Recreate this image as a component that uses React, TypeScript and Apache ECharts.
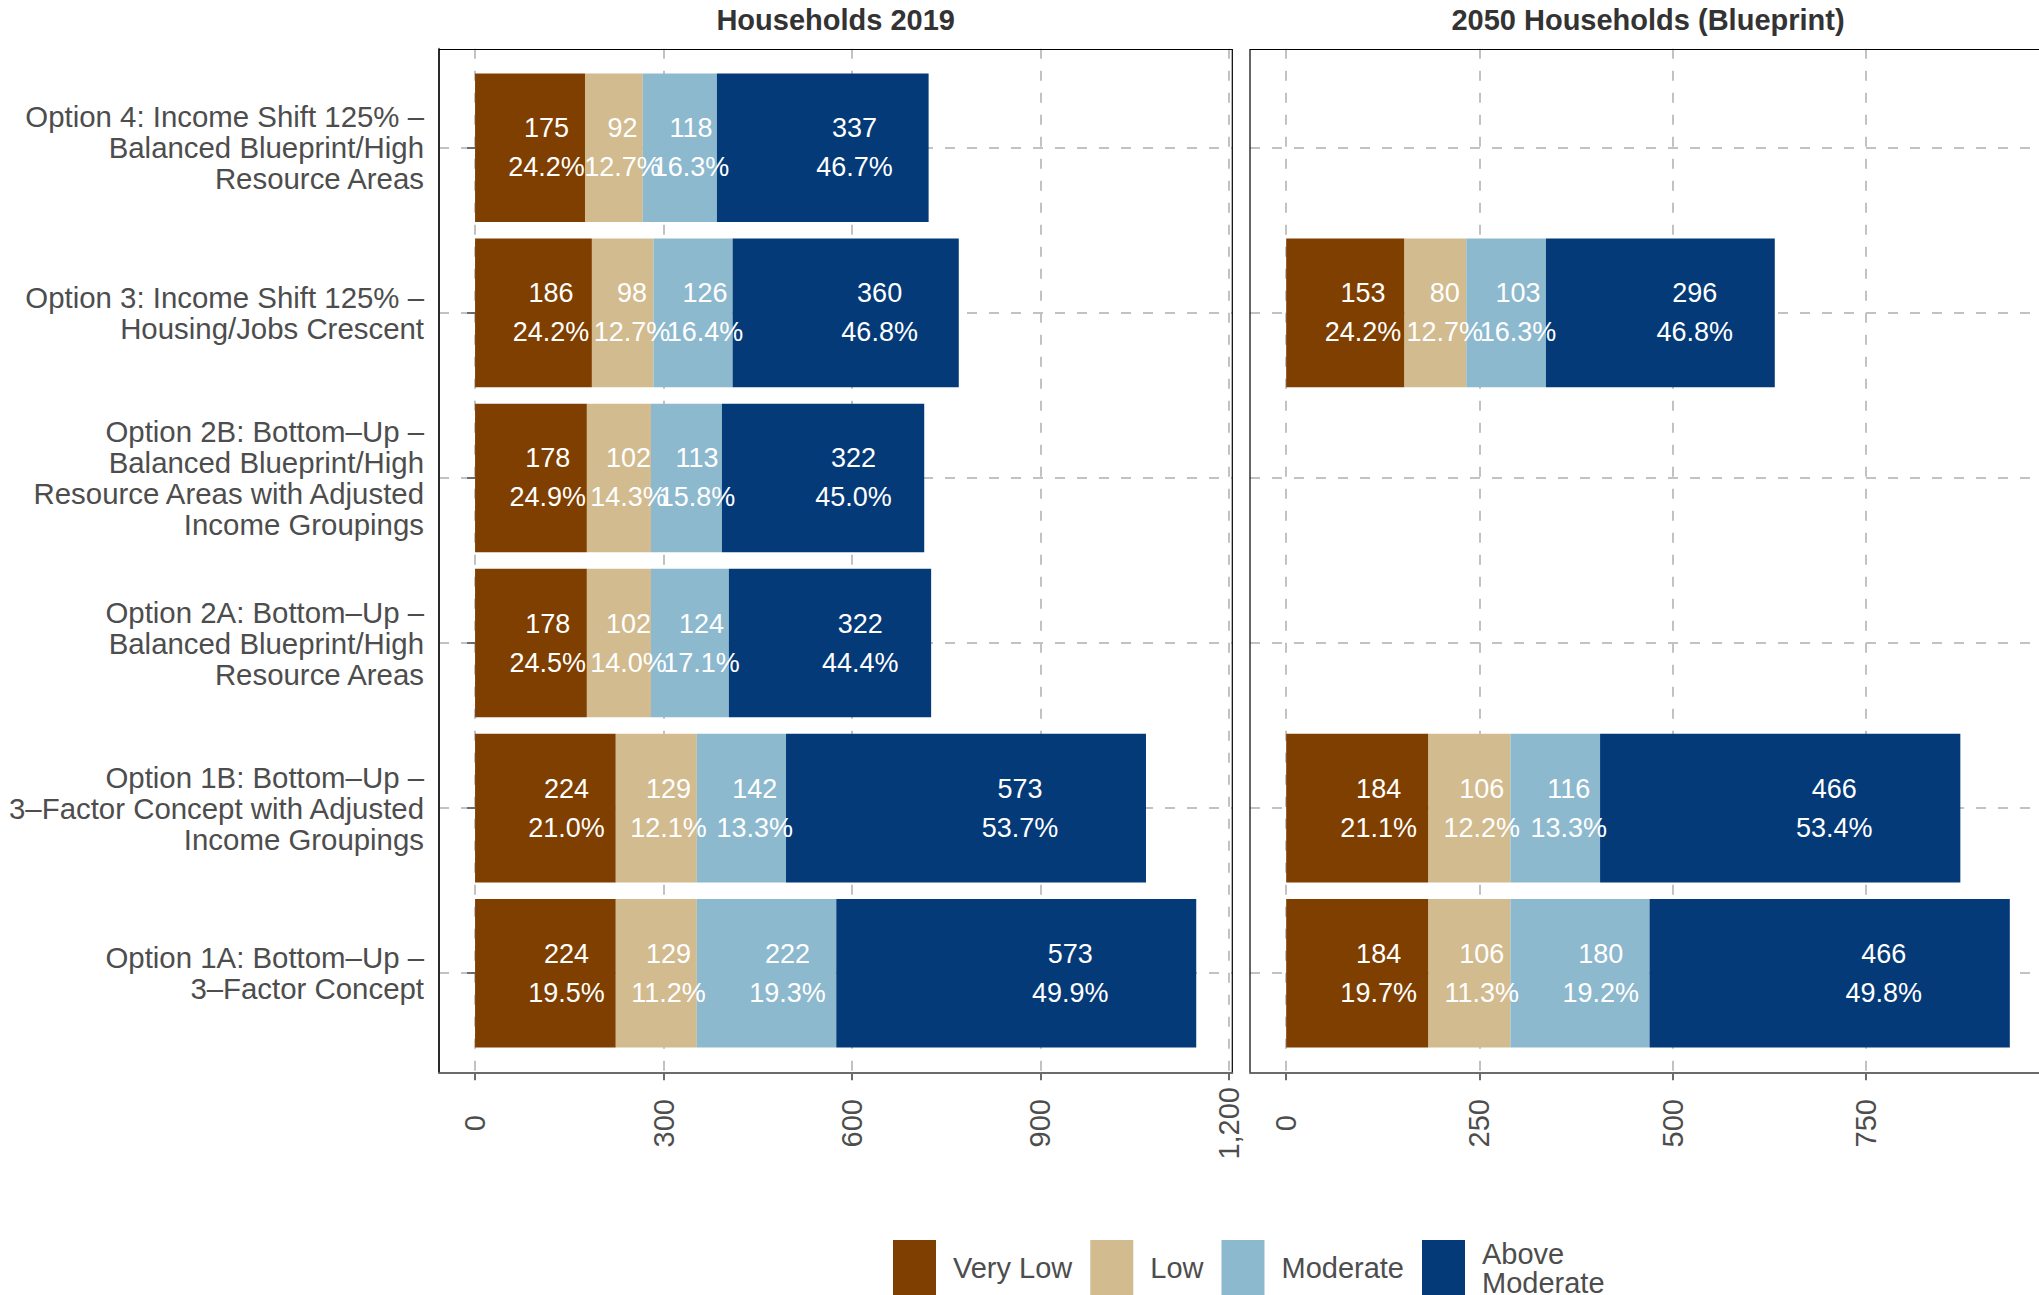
import React, { useEffect, useRef } from 'react';
import * as echarts from 'echarts';

// ---------- data ----------
const categories = [
  'Option 4: Income Shift 125% –\nBalanced Blueprint/High\nResource Areas',
  'Option 3: Income Shift 125% –\nHousing/Jobs Crescent',
  'Option 2B: Bottom–Up –\nBalanced Blueprint/High\nResource Areas with Adjusted\nIncome Groupings',
  'Option 2A: Bottom–Up –\nBalanced Blueprint/High\nResource Areas',
  'Option 1B: Bottom–Up –\n3–Factor Concept with Adjusted\nIncome Groupings',
  'Option 1A: Bottom–Up –\n3–Factor Concept',
];
const seriesNames = ['Very Low', 'Low', 'Moderate', 'Above Moderate'];
const colors = ['#7F3F00', '#D2BB8F', '#8DB9CE', '#043A78'];

const hh2019VeryLow = [175, 186, 178, 178, 224, 224];
const hh2019Low = [92, 98, 102, 102, 129, 129];
const hh2019Moderate = [118, 126, 113, 124, 142, 222];
const hh2019AboveModerate = [337, 360, 322, 322, 573, 573];

const hh2050VeryLow = [null, 153, null, null, 184, 184];
const hh2050Low = [null, 80, null, null, 106, 106];
const hh2050Moderate = [null, 103, null, null, 116, 180];
const hh2050AboveModerate = [null, 296, null, null, 466, 466];

const ticks2019 = [0, 300, 600, 900, 1200];
const ticks2050 = [0, 250, 500, 750];
const categoryPositions = [1, 2, 3, 4, 5, 6];
const panelTitles = ['Households 2019', '2050 Households (Blueprint)'];

// ---------- layout / style ----------
const FONT = '"Liberation Sans", Arial, Helvetica, sans-serif';
const AXIS_GRAY = '#6b6b6b';
const GRID_GRAY = '#c2c2c2';
const TEXT_GRAY = '#4d4d4d';

const PANEL_TOP = 48.7;
const PANEL_BOTTOM = 1072.3;
const PANEL_H = PANEL_BOTTOM - PANEL_TOP;
const INSET = (PANEL_H / 6.2) * 0.1;
const LEFT_X = 439;
const LEFT_W = 793.3;
const RIGHT_X = 1250;
const RIGHT_W = 796;

const sumRows = (arrs: (number | null)[][]) =>
  arrs[0].map((_, i) => arrs.reduce((s, a) => s + (a[i] ?? 0), 0));

const set2019 = [hh2019VeryLow, hh2019Low, hh2019Moderate, hh2019AboveModerate];
const set2050 = [hh2050VeryLow, hh2050Low, hh2050Moderate, hh2050AboveModerate];
const totals2019 = sumRows(set2019);
const totals2050 = sumRows(set2050);
const max2019 = Math.max(...totals2019);
const max2050 = Math.max(...totals2050);
const range2019 = [-max2019 * 0.05, max2019 * 1.05];
const range2050 = [-max2050 * 0.05, max2050 * 1.05];

const fmtNum = (v: number) => Number(v).toLocaleString('en-US');

function buildOption() {
  const grids = [
    { left: LEFT_X, width: LEFT_W, top: PANEL_TOP + INSET, height: PANEL_H - 2 * INSET },
    { left: RIGHT_X, width: RIGHT_W, top: PANEL_TOP + INSET, height: PANEL_H - 2 * INSET },
    { left: LEFT_X, width: LEFT_W, top: PANEL_TOP, height: PANEL_H },
    { left: RIGHT_X, width: RIGHT_W, top: PANEL_TOP, height: PANEL_H },
  ];

  const bgX = (gridIndex: number, range: number[], ticks: number[]) => ({
    type: 'value',
    gridIndex,
    min: range[0],
    max: range[1],
    axisLine: { show: true, onZero: false, lineStyle: { color: AXIS_GRAY, width: 2 } },
    axisTick: {
      show: true,
      customValues: ticks,
      length: 8,
      lineStyle: { color: AXIS_GRAY, width: 2 },
    },
    axisLabel: {
      show: true,
      customValues: ticks,
      rotate: 90,
      margin: 51,
      align: 'center',
      verticalAlign: 'middle',
      color: TEXT_GRAY,
      fontSize: 29,
      fontFamily: FONT,
      formatter: (v: number) => fmtNum(v),
    },
    splitLine: { show: true, lineStyle: { color: GRID_GRAY, width: 2, type: [10, 12] } },
  });

  const bgY = (gridIndex: number, showLine: boolean) => ({
    type: 'value',
    gridIndex,
    min: 0.4,
    max: 6.6,
    inverse: true,
    axisLine: { show: showLine, onZero: false, lineStyle: { color: AXIS_GRAY, width: 2 } },
    axisTick: { show: false, customValues: categoryPositions },
    axisLabel: { show: false, customValues: categoryPositions },
    splitLine: { show: true, lineStyle: { color: GRID_GRAY, width: 2, type: [10, 12] } },
  });

  const xAxis = [
    { type: 'value', gridIndex: 0, min: range2019[0], max: range2019[1], show: false },
    { type: 'value', gridIndex: 1, min: range2050[0], max: range2050[1], show: false },
    bgX(2, range2019, ticks2019),
    bgX(3, range2050, ticks2050),
  ];

  const yAxis = [
    {
      type: 'category',
      gridIndex: 0,
      data: categories,
      inverse: true,
      axisLine: { show: false },
      axisTick: { show: true, alignWithLabel: true, length: 8, lineStyle: { color: AXIS_GRAY, width: 2 } },
      axisLabel: {
        interval: 0,
        margin: 15,
        color: TEXT_GRAY,
        fontSize: 29.4,
        lineHeight: 31,
        fontFamily: FONT,
        align: 'right',
      },
      splitLine: { show: false },
    },
    { type: 'category', gridIndex: 1, data: categories, inverse: true, show: false },
    bgY(2, true),
    bgY(3, false),
  ];

  const makeSeries = (
    data: (number | null)[][],
    totals: number[],
    axisIdx: number,
    stack: string
  ) =>
    data.map((values, k) => ({
      type: 'bar',
      name: seriesNames[k],
      stack,
      xAxisIndex: axisIdx,
      yAxisIndex: axisIdx,
      data: values,
      barCategoryGap: '10%',
      itemStyle: { color: colors[k] },
      emphasis: { disabled: true },
      label: {
        show: true,
        position: ['65%', '50%'],
        align: 'center',
        verticalAlign: 'middle',
        color: '#ffffff',
        fontSize: 27,
        lineHeight: 39,
        fontFamily: FONT,
        formatter: (p: any) => {
          if (p.value == null) return '';
          const pct = ((p.value / totals[p.dataIndex]) * 100).toFixed(1);
          return `${p.value}\n${pct}%`;
        },
      },
    }));

  const series = [
    ...makeSeries(set2019, totals2019, 0, 'y2019'),
    ...makeSeries(set2050, totals2050, 1, 'y2050'),
  ];

  const titleStyle = (text: string) => ({
    text,
    fontSize: 29,
    fontWeight: 'bold',
    fontFamily: FONT,
    fill: '#333333',
    align: 'center',
    verticalAlign: 'middle',
  });

  const graphic = [
    {
      type: 'polyline',
      shape: { points: [[LEFT_X, PANEL_BOTTOM], [LEFT_X, 49.5], [LEFT_X + LEFT_W, 49.5], [LEFT_X + LEFT_W, PANEL_BOTTOM]] },
      style: { fill: 'none', stroke: '#000', lineWidth: 1.2 },
      silent: true,
      z: 1,
    },
    {
      type: 'polyline',
      shape: { points: [[RIGHT_X, PANEL_BOTTOM], [RIGHT_X, 49.5], [RIGHT_X + RIGHT_W, 49.5], [RIGHT_X + RIGHT_W, PANEL_BOTTOM]] },
      style: { fill: 'none', stroke: '#000', lineWidth: 1.2 },
      silent: true,
      z: 1,
    },
    { type: 'text', x: LEFT_X + LEFT_W / 2, y: 20, style: titleStyle(panelTitles[0]) },
    { type: 'text', x: RIGHT_X + RIGHT_W / 2, y: 20, style: titleStyle(panelTitles[1]) },
  ];

  return {
    animation: false,
    backgroundColor: '#ffffff',
    textStyle: { fontFamily: FONT },
    grid: grids,
    xAxis,
    yAxis,
    series,
    graphic,
    legend: {
      data: seriesNames,
      left: 893,
      top: 1239,
      orient: 'horizontal',
      padding: 0,
      itemWidth: 43,
      itemHeight: 56,
      itemGap: 18,
      icon: 'rect',
      selectedMode: false,
      formatter: (name: string) => (name === 'Above Moderate' ? 'Above\nModerate' : name),
      textStyle: {
        color: TEXT_GRAY,
        fontSize: 29,
        lineHeight: 29,
        fontFamily: FONT,
        padding: [0, 0, 0, 12],
      },
    },
  };
}

export default function App() {
  const ref = useRef<HTMLDivElement>(null);
  useEffect(() => {
    if (!ref.current) return;
    const chart = echarts.init(ref.current, undefined, { renderer: 'svg' });
    chart.setOption(buildOption() as any);
    return () => chart.dispose();
  }, []);
  return (
    <div
      style={{
        position: 'absolute',
        left: 0,
        top: 0,
        width: 2039,
        height: 1295,
        overflow: 'hidden',
        background: '#fff',
      }}
    >
      <div ref={ref} style={{ width: 2060, height: 1295 }} />
    </div>
  );
}
